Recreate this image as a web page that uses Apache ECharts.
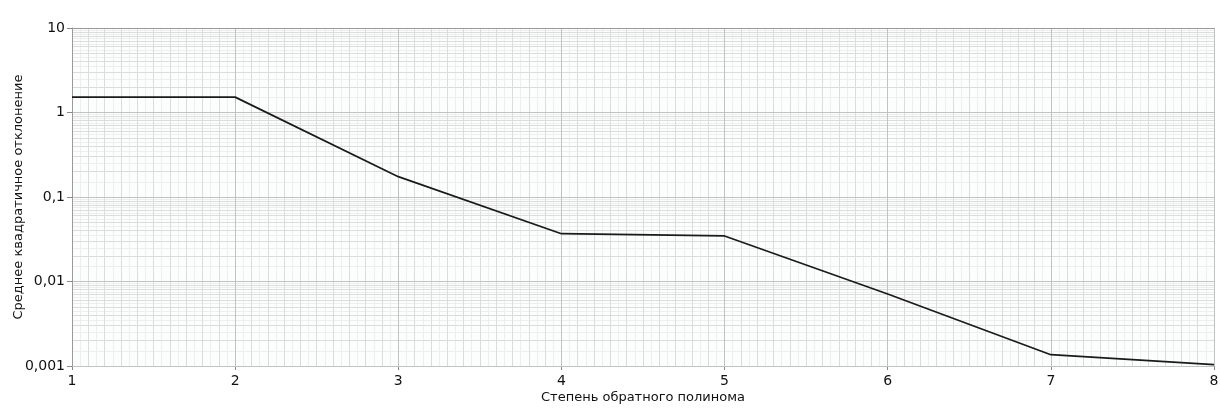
<!DOCTYPE html>
<html><head><meta charset="utf-8">
<script src="https://cdn.jsdelivr.net/npm/echarts@6/dist/echarts.min.js"></script>
<style>html,body{margin:0;padding:0;background:#fff}#c{width:1220px;height:410px}</style>
</head><body><div id="c"></div>
<script>
// Data
const degrees = [1, 2, 3, 4, 5, 6, 7, 8];
const rmsError = [1.52, 1.52, 0.174, 0.0368, 0.0346, 0.0071, 0.00136, 0.00104];
const xTitle = 'Степень обратного полинома';
const yTitle = 'Среднее квадратичное отклонение';
const yMin = 0.001, yMax = 10;
const decades = [0.001, 0.01, 0.1, 1];
const minorMult = [2, 3, 4, 5, 6, 7, 8, 9];
const halfMult = [1.5, 2.5, 3.5, 4.5, 5.5, 6.5, 7.5, 8.5, 9.5];

const minorVals = [];
decades.forEach(d => minorMult.forEach(m => minorVals.push(+(d * m).toPrecision(6))));
const halfVals = [];
decades.forEach(d => halfMult.forEach(m => halfVals.push(+(d * m).toPrecision(6))));

const font = 'Tahoma, "DejaVu Sans", sans-serif';
const chart = echarts.init(document.getElementById('c'));
const hiddenY = (vals, color, z) => ({
  type: 'log', logBase: 10, min: yMin, max: yMax, z: z, position: 'left',
  axisLine: {show: false}, axisLabel: {show: false},
  axisTick: {show: false, customValues: vals},
  splitLine: {show: true, lineStyle: {color: color, width: 1}}
});
chart.setOption({
  animation: false,
  grid: {left: 72, right: 6, top: 28, bottom: 44, show: true, backgroundColor: '#fcfdfd', borderWidth: 0,
    outerBoundsMode: 'none', containLabel: false},
  xAxis: [
    {
      type: 'value', min: 1, max: 8, interval: 1, z: 0,
      axisLine: {show: false}, axisLabel: {show: false}, axisTick: {show: false},
      splitLine: {show: false},
      minorTick: {show: false, splitNumber: 20},
      minorSplitLine: {show: true, lineStyle: {color: '#eeeeee', width: 1}}
    },
    {
      type: 'value', min: 1, max: 8, interval: 1, z: 2, position: 'bottom',
      name: xTitle, nameLocation: 'middle', nameGap: 25, nameMoveOverlap: false,
      nameTextStyle: {fontFamily: font, fontSize: 13, color: '#111'},
      axisLine: {show: false},
      axisTick: {show: true, length: 4, lineStyle: {color: '#888'}},
      axisLabel: {fontFamily: font, fontSize: 14, color: '#111', margin: 8},
      splitLine: {show: true, lineStyle: {color: '#c2c2c2', width: 1}},
      minorTick: {show: false, splitNumber: 10},
      minorSplitLine: {show: true, lineStyle: {color: '#dcdcdc', width: 1}}
    },
    {
      type: 'value', min: 1, max: 8, position: 'top', z: 3,
      axisLine: {show: true, lineStyle: {color: '#9a9a9a', width: 1}},
      axisLabel: {show: false}, axisTick: {show: false}, splitLine: {show: false}
    }
  ],
  yAxis: [
    hiddenY(halfVals, '#eeeeee', 0),
    hiddenY(minorVals, '#dcdcdc', 1),
    {
      type: 'log', logBase: 10, min: yMin, max: yMax, z: 3, position: 'left',
      name: yTitle, nameLocation: 'middle', nameGap: 47, nameRotate: 90, nameMoveOverlap: false,
      nameTextStyle: {fontFamily: font, fontSize: 13, color: '#111'},
      axisLine: {show: true, lineStyle: {color: '#9a9a9a', width: 1}},
      axisTick: {show: true, length: 5, lineStyle: {color: '#888'}},
      axisLabel: {fontFamily: font, fontSize: 14, color: '#111', margin: 7,
        formatter: v => String(v).replace('.', ',')},
      splitLine: {show: true, lineStyle: {color: '#c2c2c2', width: 1}}
    }
  ],
  series: [{
    type: 'line', xAxisIndex: 1, yAxisIndex: 2, z: 10,
    data: degrees.map((d, i) => [d, rmsError[i]]),
    showSymbol: false, symbol: 'none',
    lineStyle: {color: '#1a1a1a', width: 1.7}
  }]
});
</script></body></html>
